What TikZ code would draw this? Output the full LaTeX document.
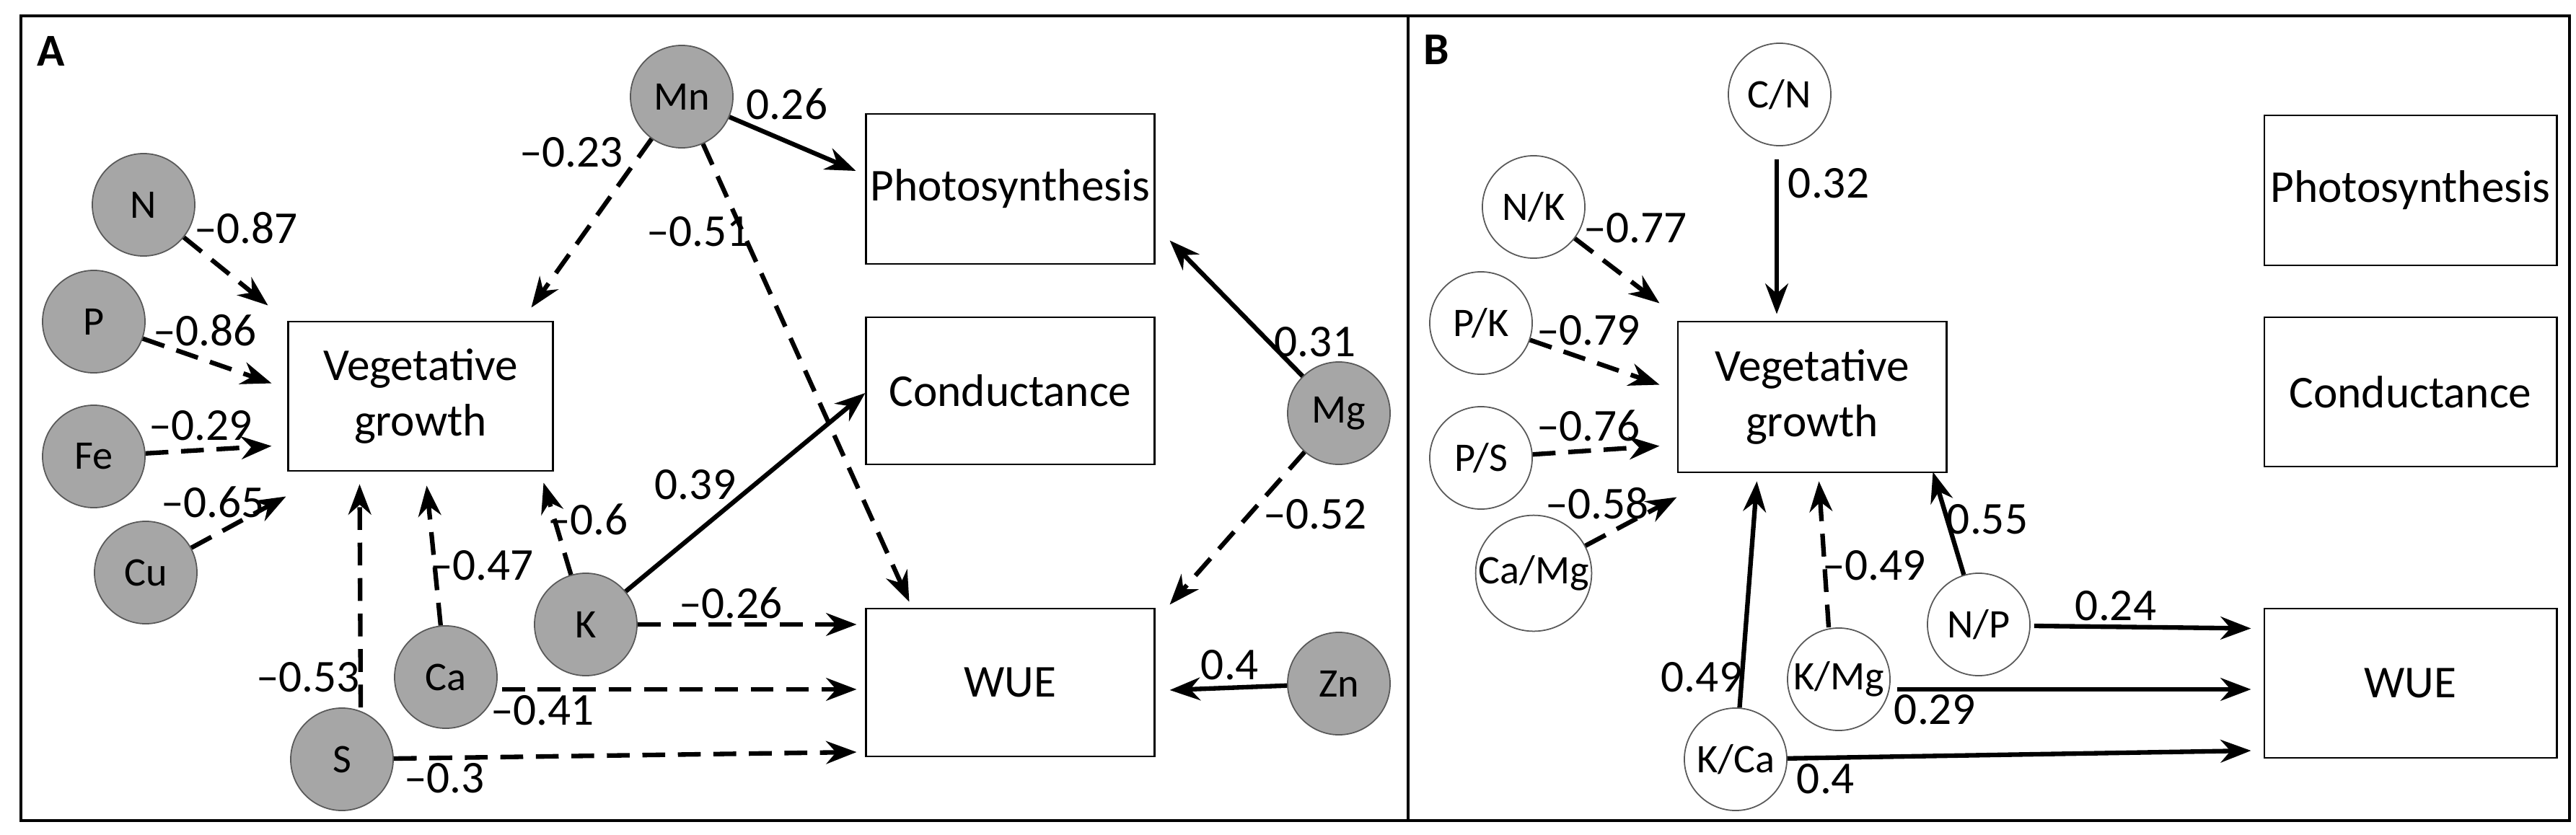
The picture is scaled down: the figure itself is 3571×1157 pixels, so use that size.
\documentclass[tikz,border=0pt]{standalone}
\usepackage{fontspec}
\setmainfont{Carlito}
\usetikzlibrary{arrows.meta,calc}
\begin{document}
\begin{tikzpicture}[x=0.01cm,y=-0.01cm,
  circ/.style={circle,draw=gray!70!black,line width=0.5pt,minimum size=1.42cm,inner sep=0pt,font=\fontsize{16}{19}\selectfont},
  gc/.style={circ,fill=black!35},
  wc/.style={circ,fill=white},
  box/.style={draw,line width=0.8pt,minimum width=#1,inner sep=0pt,font=\fontsize{18}{22}\selectfont,align=center},
  lab/.style={font=\fontsize{18}{21}\selectfont,inner sep=1pt},
  arr/.style={line width=1.8pt,-{Stealth[length=12pt,width=9pt]}},
  das/.style={arr,dash pattern=on 9pt off 5pt}]
\useasboundingbox (0,0) rectangle (3571,1157);
\draw[line width=1pt] (29,22) rectangle (1952,1138);
\draw[line width=1pt] (1952,22) rectangle (3562,1138);
\node[font=\fontsize{18}{21}\selectfont\bfseries] (lA) at (71,71) {A};
\node[font=\fontsize{18}{21}\selectfont\bfseries] (lB) at (1991,69) {B};
% Panel A boxes
\node[box=3.66cm,minimum height=2.07cm] (VGA) at (583,549.5) {Vegetative\\growth};
\node[box=3.99cm,minimum height=2.08cm] (PhA) at (1400.5,262) {Photosynthesis};
\node[box=3.99cm,minimum height=2.04cm] (CoA) at (1400.5,542) {Conductance};
\node[box=3.99cm,minimum height=2.05cm] (WuA) at (1400.5,946.5) {WUE};
% Panel A circles
\node[gc] (Mn) at (945,134) {Mn};
\node[gc] (N) at (199,284) {N};
\node[gc] (P) at (130,446) {P};
\node[gc] (Fe) at (130,633) {Fe};
\node[gc] (Cu) at (202,794) {Cu};
\node[gc] (S) at (474,1053) {S};
\node[gc] (Ca) at (618,939) {Ca};
\node[gc] (K) at (812,866) {K};
\node[gc] (Mg) at (1856,573) {Mg};
\node[gc] (Zn) at (1856,948) {Zn};
% Panel A arrows
\draw[das] (N) -- ($(VGA.north west)+(-27,-21)$);
\draw[das] (P) -- ($(VGA.north west)+(-22,87)$);
\draw[das] (Fe) -- ($(VGA.north west)+(-22,174)$);
\draw[das] (Cu) -- ($(VGA.south west)+(-2,34)$);
\draw[das] ($(S.north)+(26,0)$) -- ($(VGA.south west)+(100,17)$);
\draw[das] (Ca) -- ($(VGA.south west)+(193,19)$);
\draw[das] (K) -- ($(VGA.south east)+(-14,15)$);
\draw[arr] (K) -- ($(CoA.west)+(0,3)$);
\draw[das] (K) -- ($(WuA.west)+(-12,-80.5)$);
\draw[das] ($(Ca.east)+(6,17)$) -- ($(WuA.west)+(-12,9.5)$);
\draw[das] (S) -- ($(WuA.west)+(-12,96.5)$);
\draw[das] (Mn) -- ($(VGA.north east)+(-31,-18)$);
\draw[arr] (Mn) -- ($(PhA.west)+(-13,-25)$);
\draw[das] (Mn) -- ($(WuA.north west)+(61,-8)$);
\draw[arr] (Mg) -- ($(PhA.south east)+(20,-34)$);
\draw[das] (Mg) -- ($(WuA.north east)+(20,-4)$);
\draw[arr] (Zn) -- ($(WuA.east)+(20,10.5)$);
% Panel A labels
\node[lab] (a1) at (341,316) {--0.87};
\node[lab] (a2) at (284,458) {--0.86};
\node[lab] (a3) at (278,590) {--0.29};
\node[lab] (a4) at (295,696) {--0.65};
\node[lab] (a5) at (427,939) {--0.53};
\node[lab] (a6) at (668,784) {--0.47};
\node[lab] (a7) at (815,720) {--0.6};
\node[lab] (a8) at (964,672) {0.39};
\node[lab] (a9) at (1013,836) {--0.26};
\node[lab] (a10) at (752,985) {--0.41};
\node[lab] (a11) at (616,1079) {--0.3};
\node[lab] (a12) at (792,211) {--0.23};
\node[lab] (a13) at (1091,144) {0.26};
\node[lab] (a14) at (968,321) {--0.51};
\node[lab] (a15) at (1705,922) {0.4};
\node[lab] (a16) at (1823,474) {0.31};
\node[lab] (a17) at (1823,713) {--0.52};
% Panel B boxes
\node[box=3.72cm,minimum height=2.09cm] (VGB) at (2512,550.5) {Vegetative\\growth};
\node[box=4.05cm,minimum height=2.08cm] (PhB) at (3341.5,264) {Photosynthesis};
\node[box=4.05cm,minimum height=2.07cm] (CoB) at (3341.5,543.5) {Conductance};
\node[box=4.05cm,minimum height=2.07cm] (WuB) at (3341.5,947.5) {WUE};
% Panel B circles
\node[wc] (CN) at (2467,131) {C/N};
\node[wc] (NK) at (2126,287) {N/K};
\node[wc] (PK) at (2053,448) {P/K};
\node[wc] (PS) at (2053,635) {P/S};
\node[wc] (CaMg) at (2126,795) {Ca/Mg};
\node[wc] (KCa) at (2406,1053) {K/Ca};
\node[wc] (KMg) at (2549,942) {K/Mg};
\node[wc] (NP) at (2743,866) {N/P};
% Panel B arrows
\draw[arr] ($(CN.south)+(-4,18)$) -- ($(VGB.north)+(-49,-9)$);
\draw[das] (NK) -- ($(VGB.north west)+(-24,-24)$);
\draw[das] (PK) -- ($(VGB.north west)+(-24,89)$);
\draw[das] (PS) -- ($(VGB.north west)+(-24,174)$);
\draw[das] (CaMg) -- ($(VGB.south west)+(0,33)$);
\draw[arr] (KCa) -- ($(VGB.south west)+(111,11)$);
\draw[das] ($(KMg.north)+(-14,0)$) -- ($(VGB.south west)+(197,11)$);
\draw[arr] (NP) -- ($(VGB.south east)+(-20,-2)$);
\draw[arr] ($(NP.east)+(5,2)$) -- ($(WuB.west)+(-17,-76)$);
\draw[arr] ($(KMg.east)+(9,14)$) -- ($(WuB.west)+(-17,8.5)$);
\draw[arr] (KCa) -- ($(WuB.west)+(-17,93.5)$);
% Panel B labels
\node[lab] (b1) at (2535,254) {0.32};
\node[lab] (b2) at (2267,316) {--0.77};
\node[lab] (b3) at (2202,458) {--0.79};
\node[lab] (b4) at (2202,590) {--0.76};
\node[lab] (b5) at (2214,698) {--0.58};
\node[lab] (b6) at (2359,939) {0.49};
\node[lab] (b7) at (2598,784) {--0.49};
\node[lab] (b8) at (2755,720) {0.55};
\node[lab] (b9) at (2933,840) {0.24};
\node[lab] (b10) at (2682,984) {0.29};
\node[lab] (b11) at (2531,1080) {0.4};
\end{tikzpicture}
\end{document}
